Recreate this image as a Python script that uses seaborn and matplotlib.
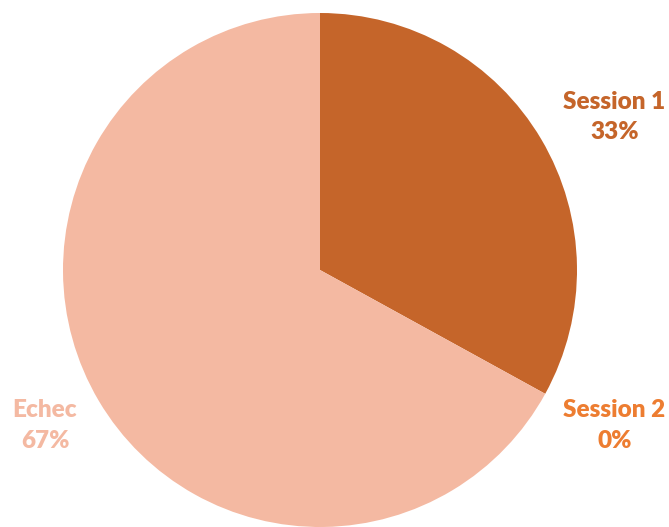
import matplotlib
matplotlib.use("Agg")
import matplotlib.pyplot as plt
import seaborn as sns

# Data
labels = ["Session 1", "Session 2", "Echec"]
values = [33, 0, 67]
slice_colors = ["#C5652A", "#ED7D31", "#F4B9A2"]
label_colors = ["#C5652A", "#ED7D31", "#F4B9A2"]

sns.set_theme(style="white")
plt.rcParams['font.family'] = ['Lato', 'DejaVu Sans']

fig = plt.figure(figsize=(6.69, 5.27), dpi=100)
ax = fig.add_axes([0, 0, 1, 1])

wedges, _ = ax.pie(values, colors=slice_colors, startangle=90, counterclock=False,
                   radius=1, wedgeprops=dict(linewidth=0))

# label positions (x, y) in data units
label_pos = [(1.145, 0.595), (1.145, -0.605), (-1.07, -0.605)]
for lab, val, col, (x, y) in zip(labels, values, label_colors, label_pos):
    ax.text(x, y, f"{lab}\n{val}%", color=col, fontsize=17.5, fontweight='heavy',
            ha='center', va='center', linespacing=1.45)

ax.set_aspect('auto')
ax.set_xlim(-320 / 257, (669 - 320) / 257)
ax.set_ylim((270 - 527) / 257, 270 / 257)
ax.axis('off')

fig.savefig("out.png", dpi=100)
